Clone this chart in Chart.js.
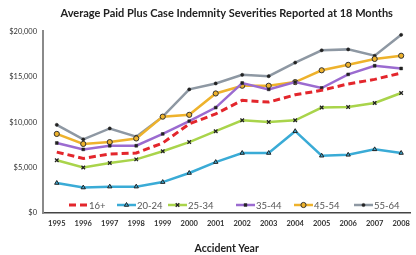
<!DOCTYPE html>
<html>
<head>
<meta charset="utf-8">
<script src="https://cdn.jsdelivr.net/npm/chart.js@4"></script>
<style>
  html, body { margin: 0; padding: 0; background: #fff; }
  #wrap { width: 416px; height: 255px; position: relative; }
</style>
</head>
<body>
<div id="wrap"><canvas id="sevChart"></canvas></div>
<script>
// Accident years on the x axis
const years = [1995, 1996, 1997, 1998, 1999, 2000, 2001, 2002, 2003, 2004, 2005, 2006, 2007, 2008];

// Average severity by age group
const age16plus = [6700, 6000, 6500, 6600, 7700, 9800, 10900, 12400, 12200, 13000, 13500, 14200, 14700, 15400];
const age20to24 = [3300, 2800, 2900, 2900, 3400, 4400, 5600, 6600, 6600, 9000, 6300, 6400, 7000, 6600];
const age25to34 = [5800, 5000, 5500, 5900, 6800, 7800, 9000, 10200, 10000, 10200, 11600, 11650, 12100, 13200];
const age35to44 = [7700, 7000, 7400, 7400, 8700, 10100, 11600, 14300, 13600, 14400, 13750, 15250, 16200, 15900];
const age45to54 = [8700, 7600, 7800, 8200, 10600, 10800, 13150, 14000, 14000, 14400, 15700, 16300, 16950, 17300];
const age55to64 = [9700, 8100, 9300, 8400, 10600, 13600, 14250, 15200, 15050, 16550, 17900, 18000, 17300, 19600];

const seriesNames = ['16+', '20-24', '25-34', '35-44', '45-54', '55-64'];
const yTicks = [0, 5000, 10000, 15000, 20000];

const toPoints = vals => vals.map((v, i) => ({ x: years[i], y: v }));

// Legend sits inside the plot, just above the x axis
const legendInside = {
    id: 'legendInside',
    afterDatasetsDraw(chart) {
        const ctx = chart.ctx;
        const y = chart.chartArea.bottom - 8;
        const starts = [69, 117, 168, 236, 294, 354];
        ctx.save();
        chart.data.datasets.forEach((ds, i) => {
            const x0 = starts[i];
            const x1 = x0 + 19;
            ctx.beginPath();
            ctx.setLineDash(ds.borderDash || []);
            ctx.strokeStyle = ds.borderColor;
            ctx.lineWidth = ds.borderWidth;
            ctx.moveTo(x0, y);
            ctx.lineTo(x1, y);
            ctx.stroke();
            ctx.setLineDash([]);
            if (ds.pointRadius > 0) {
                ctx.fillStyle = ds.pointBackgroundColor;
                ctx.strokeStyle = ds.pointBorderColor;
                ctx.lineWidth = ds.pointBorderWidth;
                Chart.helpers.drawPoint(ctx, {
                    pointStyle: ds.pointStyle,
                    radius: ds.pointRadius,
                    rotation: 0,
                    borderWidth: ds.pointBorderWidth
                }, (x0 + x1) / 2, y);
            }
            ctx.fillStyle = '#555';
            ctx.font = '9.5px Lato';
            ctx.textBaseline = 'middle';
            ctx.textAlign = 'left';
            ctx.fillText(ds.label, x1 + 1, y + 0.5);
        });
        ctx.restore();
    }
};

const ctx = document.getElementById('sevChart').getContext('2d');

new Chart(ctx, {
    type: 'line',
    data: {
        datasets: [
            {
                label: seriesNames[0],
                data: toPoints(age16plus),
                borderColor: '#e3262c',
                borderWidth: 3,
                borderDash: [7, 4],
                pointRadius: 0,
                pointStyle: 'circle',
                pointBackgroundColor: '#e3262c',
                pointBorderColor: '#e3262c',
                pointBorderWidth: 0
            },
            {
                label: seriesNames[1],
                data: toPoints(age20to24),
                borderColor: '#3aabd6',
                borderWidth: 2.5,
                pointRadius: 2.5,
                pointStyle: 'triangle',
                pointBackgroundColor: '#3aabd6',
                pointBorderColor: '#222',
                pointBorderWidth: 1
            },
            {
                label: seriesNames[2],
                data: toPoints(age25to34),
                borderColor: '#a9d44b',
                borderWidth: 2.5,
                pointRadius: 2.5,
                pointStyle: 'crossRot',
                pointBackgroundColor: '#222',
                pointBorderColor: '#222',
                pointBorderWidth: 1.3
            },
            {
                label: seriesNames[3],
                data: toPoints(age35to44),
                borderColor: '#9b6bd0',
                borderWidth: 2.5,
                pointRadius: 2,
                pointStyle: 'rect',
                pointBackgroundColor: '#222',
                pointBorderColor: '#222',
                pointBorderWidth: 0.5
            },
            {
                label: seriesNames[4],
                data: toPoints(age45to54),
                borderColor: '#eeb22c',
                borderWidth: 2.5,
                pointRadius: 2.6,
                pointStyle: 'circle',
                pointBackgroundColor: '#eeb22c',
                pointBorderColor: '#333',
                pointBorderWidth: 1
            },
            {
                label: seriesNames[5],
                data: toPoints(age55to64),
                borderColor: '#8e98a3',
                borderWidth: 2.5,
                pointRadius: 1.6,
                pointStyle: 'circle',
                pointBackgroundColor: '#222',
                pointBorderColor: '#222',
                pointBorderWidth: 0.5
            }
        ]
    },
    options: {
        responsive: true,
        maintainAspectRatio: false,
        animation: false,
        layout: { padding: { left: 0, right: 0, top: 0, bottom: 0 } },
        plugins: {
            legend: { display: false },
            tooltip: { enabled: false },
            title: {
                display: true,
                fullSize: false,
                text: 'Average Paid Plus Case Indemnity Severities Reported at 18 Months',
                color: '#222',
                font: { family: 'Lato', size: 11, weight: 'bold' },
                padding: { top: 7, bottom: 11 }
            }
        },
        scales: {
            x: {
                type: 'linear',
                min: 1994.48,
                max: 2008.35,
                afterBuildTicks: scale => { scale.ticks = years.map(v => ({ value: v })); },
                afterFit: scale => { scale.height = 42; },
                grid: { display: false, drawTicks: false },
                border: { display: true, color: '#444', width: 1.5 },
                ticks: {
                    autoSkip: false,
                    maxRotation: 0,
                    padding: 6,
                    color: '#333',
                    font: { family: 'Lato', size: 7.5, weight: 'bold' },
                    callback: v => String(v)
                },
                title: {
                    display: true,
                    text: 'Accident Year',
                    color: '#222',
                    font: { family: 'Lato', size: 10.5, weight: 'bold' },
                    padding: { top: 10, bottom: 0 }
                }
            },
            y: {
                min: 0,
                max: 20000,
                afterBuildTicks: scale => { scale.ticks = yTicks.map(v => ({ value: v })); },
                afterFit: scale => { scale.width = 43; },
                grid: { display: false, drawTicks: false },
                border: { display: true, color: '#8a8a8a', width: 2 },
                ticks: {
                    padding: 6,
                    color: '#333',
                    font: { family: 'Lato', size: 7.5 },
                    callback: v => '$' + v.toLocaleString('en-US')
                }
            }
        }
    },
    plugins: [legendInside]
});
</script>
</body>
</html>
